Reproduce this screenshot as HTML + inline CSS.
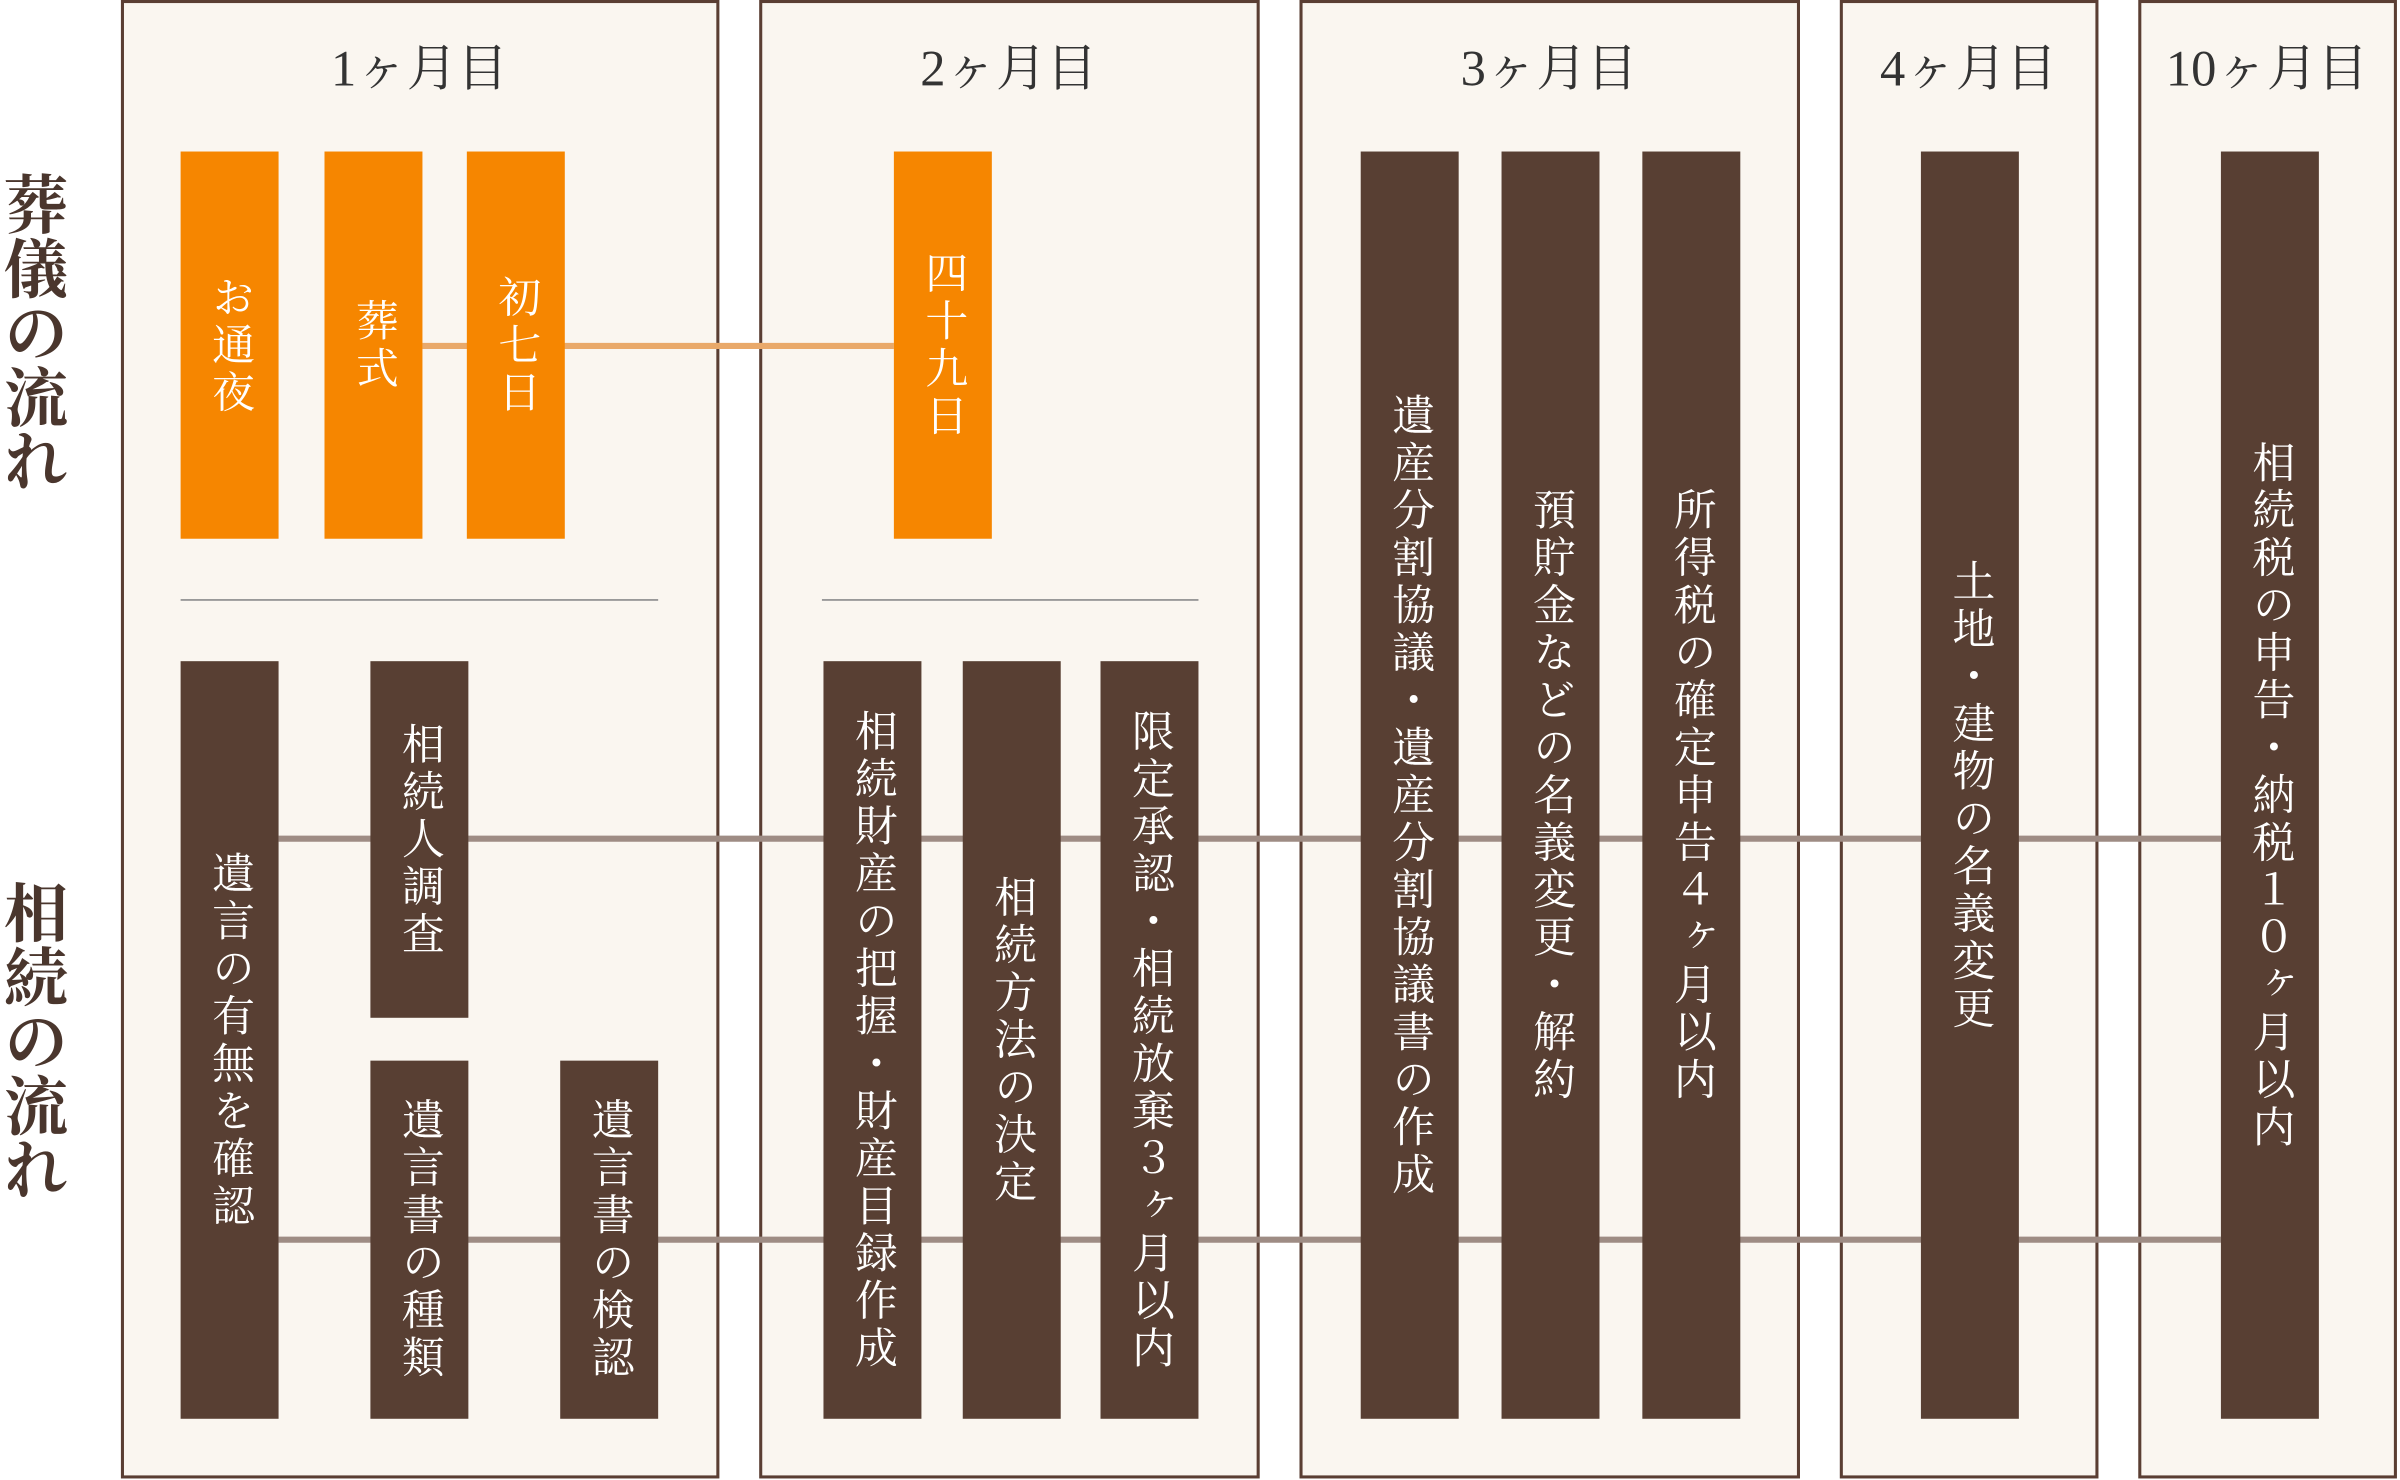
<!DOCTYPE html>
<html><head><meta charset="utf-8"><style>
html,body{margin:0;padding:0;background:#fff;width:2400px;height:1480px;overflow:hidden}
svg{display:block}
.v{writing-mode:vertical-rl;font-family:"Liberation Serif","Noto Serif CJK SC",serif;fill:#fff;font-size:28px;text-anchor:middle;letter-spacing:3px}
.h{font-family:"Liberation Serif","Noto Serif CJK SC",serif;fill:#333;font-size:33px;text-anchor:middle}
.l{writing-mode:vertical-rl;font-family:"Liberation Serif","Noto Serif CJK SC",serif;fill:#4a362d;font-size:42px;font-weight:bold;text-anchor:middle}
</style></head><body>
<svg width="2400" height="1480" viewBox="0 0 1568 967" preserveAspectRatio="none">
<g fill="#faf6f0" stroke="#5a3e33" stroke-width="2">
<rect x="80" y="1" width="389" height="964"/>
<rect x="497" y="1" width="325" height="964"/>
<rect x="850" y="1" width="325" height="964"/>
<rect x="1203" y="1" width="167" height="964"/>
<rect x="1398" y="1" width="167" height="964"/>
</g>
<text class="h" x="274" y="56">1ヶ月目</text>
<text class="h" x="659" y="56">2ヶ月目</text>
<text class="h" x="1012" y="56">3ヶ月目</text>
<text class="h" x="1286" y="56">4ヶ月目</text>
<text class="h" x="1481" y="56">10ヶ月目</text>
<text class="l" x="20" y="217">葬儀の流れ</text>
<text class="l" x="20" y="680">相続の流れ</text>
<line x1="276" y1="226" x2="584" y2="226" stroke="#e9a96a" stroke-width="4"/>
<line x1="118" y1="392" x2="430" y2="392" stroke="#999" stroke-width="1.2"/>
<line x1="537" y1="392" x2="783" y2="392" stroke="#999" stroke-width="1.2"/>
<line x1="182" y1="548" x2="1451" y2="548" stroke="#9e8c84" stroke-width="4"/>
<line x1="182" y1="810" x2="1451" y2="810" stroke="#9e8c84" stroke-width="4"/>
<g fill="#f68600">
<rect x="118" y="99" width="64" height="253"/>
<rect x="212" y="99" width="64" height="253"/>
<rect x="305" y="99" width="64" height="253"/>
<rect x="584" y="99" width="64" height="253"/>
</g>
<g fill="#583f33">
<rect x="118" y="432" width="64" height="495"/>
<rect x="242" y="432" width="64" height="233"/>
<rect x="242" y="693" width="64" height="234"/>
<rect x="366" y="693" width="64" height="234"/>
<rect x="538" y="432" width="64" height="495"/>
<rect x="629" y="432" width="64" height="495"/>
<rect x="719" y="432" width="64" height="495"/>
<rect x="889" y="99" width="64" height="828"/>
<rect x="981" y="99" width="64" height="828"/>
<rect x="1073" y="99" width="64" height="828"/>
<rect x="1255" y="99" width="64" height="828"/>
<rect x="1451" y="99" width="64" height="828"/>
</g>
<text class="v" x="150" y="226">お通夜</text>
<text class="v" x="244" y="226">葬式</text>
<text class="v" x="337" y="226">初七日</text>
<text class="v" x="616" y="226">四十九日</text>
<text class="v" x="150" y="680">遺言の有無を確認</text>
<text class="v" x="274" y="549">相続人調査</text>
<text class="v" x="274" y="810">遺言書の種類</text>
<text class="v" x="398" y="810">遺言書の検認</text>
<text class="v" x="570" y="680">相続財産の把握・財産目録作成</text>
<text class="v" x="661" y="680">相続方法の決定</text>
<text class="v" x="751" y="680">限定承認・相続放棄３ヶ月以内</text>
<text class="v" x="921" y="520">遺産分割協議・遺産分割協議書の作成</text>
<text class="v" x="1013" y="520">預貯金などの名義変更・解約</text>
<text class="v" x="1105" y="520">所得税の確定申告４ヶ月以内</text>
<text class="v" x="1287" y="520">土地・建物の名義変更</text>
<text class="v" x="1483" y="520">相続税の申告・納税１０ヶ月以内</text>
</svg>
</body></html>
